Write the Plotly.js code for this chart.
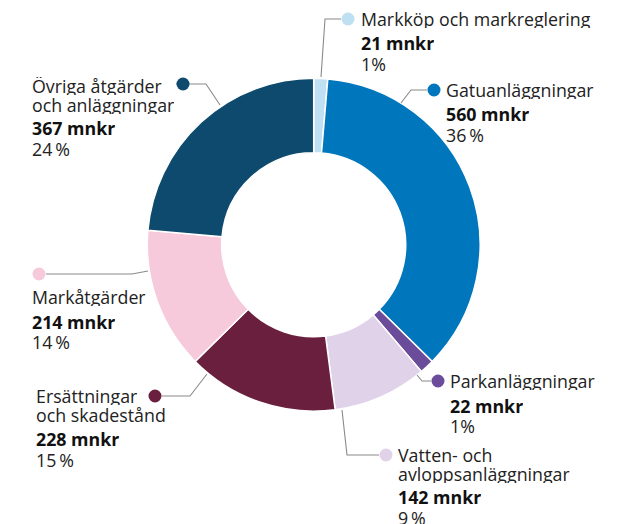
<!DOCTYPE html>
<html>
<head>
<meta charset="utf-8">
<script src="https://cdn.plot.ly/plotly-3.0.1.min.js"></script>
<style>html,body{margin:0;padding:0;background:#fff;}#chart{width:629px;height:524px;}</style>
</head>
<body>
<div id="chart"></div>
<script>
// ---- data ----
const categories = [
  "Markköp och markreglering",
  "Gatuanläggningar",
  "Parkanläggningar",
  "Vatten- och<br>avloppsanläggningar",
  "Ersättningar<br>och skadestånd",
  "Markåtgärder",
  "Övriga åtgärder<br>och anläggningar"
];
const values = [21, 560, 22, 142, 228, 214, 367];
const pctLabels = ["1%", "36\u2009%", "1%", "9\u2009%", "15\u2009%", "14\u2009%", "24\u2009%"];
const colors = ["#bfdff3", "#0077bd", "#6a4c9b", "#e0d2e9", "#6b1f3e", "#f6cadb", "#0d4a6d"];

// ---- layout helpers (pixel -> paper) ----
const W = 629, H = 524;
const px = x => x / W;
const py = y => 1 - y / H;

// label placement: text left x, name first-line y, value y, percent y, dot, leader path
const place = [
  {tx: 361, ny: 19, vy: 43, pyy: 64, dot: [348, 19], path: [[341, 19], [325, 19], [321, 77]]},
  {tx: 446, ny: 90, vy: 114, pyy: 135, dot: [434, 90], path: [[427, 90], [411, 90], [401, 103]]},
  {tx: 450, ny: 381, vy: 406, pyy: 426, dot: [438, 381], path: [[431, 381], [422, 381], [417, 375]]},
  {tx: 398, ny: 455, vy: 497, pyy: 518, dot: [386, 455], path: [[379, 455], [347, 455], [342, 410]]},
  {tx: 36, ny: 396, vy: 439, pyy: 460, dot: [155, 396], path: [[162, 396], [190, 396], [207, 374]]},
  {tx: 32, ny: 297, vy: 322, pyy: 342, dot: [39, 274], path: [[46, 274], [132, 274], [148, 271]]},
  {tx: 32, ny: 86, vy: 128, pyy: 149, dot: [183, 84], path: [[176, 84], [206, 84], [220, 105]]}
];

const font = "'Open Sans', sans-serif";
const fs = 17.8;
const lineGap = 19;
const txtColor = "#222222";
const annotations = [];
const shapes = [];

function addText(x, y, text, bold) {
  annotations.push({
    x: px(x - 1), y: py(y), xref: "paper", yref: "paper",
    xanchor: "left", yanchor: "middle", align: "left", showarrow: false,
    height: 18, borderpad: 0,
    text: bold ? "<b>" + text + "</b>" : text,
    font: {family: font, size: fs, color: bold ? "#111111" : txtColor}
  });
}

categories.forEach((c, i) => {
  const p = place[i];
  c.split("<br>").forEach((line, k) => addText(p.tx, p.ny + k * lineGap, line, false));
  addText(p.tx, p.vy, values[i] + " mnkr", true);
  addText(p.tx, p.pyy, pctLabels[i], false);
  shapes.push({
    type: "path", xref: "paper", yref: "paper",
    path: "M " + p.path.map(q => px(q[0]) + "," + py(q[1])).join(" L "),
    line: {color: "#8a8a8a", width: 1.1}
  });
  const r = 6.5;
  shapes.push({
    type: "circle", xref: "paper", yref: "paper",
    x0: px(p.dot[0] - r), x1: px(p.dot[0] + r),
    y0: py(p.dot[1] + r), y1: py(p.dot[1] - r),
    fillcolor: colors[i], line: {width: 0}
  });
});

const trace = {
  type: "pie",
  labels: categories,
  values: values,
  sort: false,
  direction: "clockwise",
  rotation: 0,
  hole: 0.553,
  textinfo: "none",
  hoverinfo: "label+value+percent",
  marker: {colors: colors, line: {color: "#ffffff", width: 1.5}},
  domain: {x: [px(147.3), px(480.1)], y: [py(411.1), py(78.3)]},
  showlegend: false
};

const layout = {
  width: W, height: H,
  margin: {l: 0, r: 0, t: 0, b: 0},
  paper_bgcolor: "#ffffff",
  showlegend: false,
  annotations: annotations,
  shapes: shapes
};

Plotly.newPlot("chart", [trace], layout, {displayModeBar: false, staticPlot: true});
</script>
</body>
</html>
